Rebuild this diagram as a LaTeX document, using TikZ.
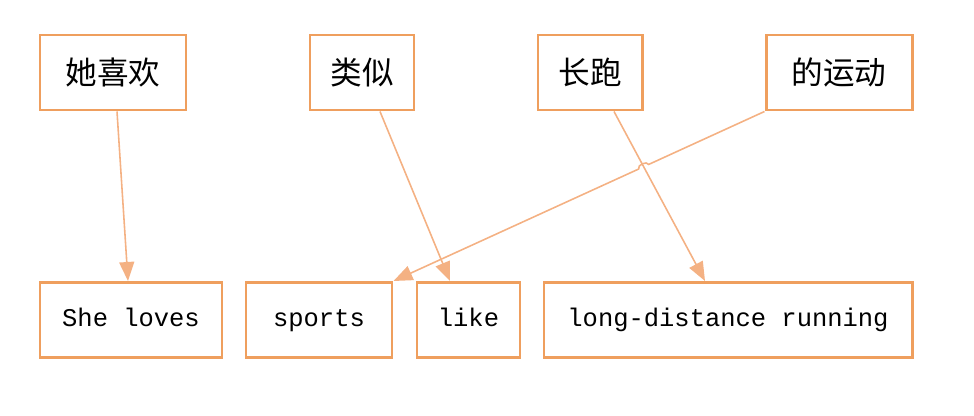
\documentclass[tikz,border=0pt]{standalone}
\usepackage{fontspec}
\setmonofont{Liberation Mono}
\newfontfamily\cjk{Noto Sans CJK SC}
\usetikzlibrary{arrows.meta,calc,positioning}
\definecolor{peach}{HTML}{EF9F5E}
\definecolor{peachline}{HTML}{F4B183}
\tikzstyle{zhbox} = [rectangle, minimum width=2.92cm, minimum height=1.5cm, text centered, draw=peach, line width=1.7pt, font=\cjk\fontsize{18}{20}\selectfont]
\tikzstyle{enbox} = [rectangle, minimum height=1.5cm, text centered, text height=2.2ex, text depth=0.4ex, draw=peach, line width=1.7pt, font=\ttfamily\fontsize{14.5}{16}\selectfont]
\tikzstyle{link} = [draw, line width=0.9pt, color=peachline, -{Triangle[length=0.38cm,width=0.3cm]}]

\begin{document}
\begin{tikzpicture}
  \useasboundingbox (0,0) rectangle (19.48,-8.32);
  % source row
  \node (tlove) [zhbox] at (2.26,-1.45) {她喜欢};
  \node (tlike) [zhbox, minimum width=2.08cm] at (7.24,-1.45) {类似};
  \node (trun) [zhbox, minimum width=2.08cm] at (11.8,-1.45) {长跑};
  \node (tsport) [zhbox] at (16.78,-1.45) {的运动};
  % target row
  \node (blove) [enbox, minimum width=3.64cm] at (2.62,-6.4) {She loves};
  \node (bsport) [enbox, minimum width=2.92cm] at (6.38,-6.4) {sports};
  \node (blike) [enbox, minimum width=2.06cm] at (9.37,-6.4) {like};
  \node (brun) [enbox, minimum width=7.36cm] at (14.56,-6.4) {long-distance running};

  \path [link] ([xshift=0.08cm]tlove.south) -- ([xshift=-0.06cm]blove.north);
  \path [link] ([xshift=0.36cm]tlike.south) -- ([xshift=-0.37cm]blike.north);
  \coordinate (runtop) at ([xshift=0.48cm]trun.south);
  \coordinate (runbot) at ([xshift=-0.46cm]brun.north);
  \path [link] (runtop) -- (runbot);
  \coordinate (hop) at (intersection of tsport.south west--bsport.north east and runtop--runbot);
  \path [link] (tsport.south west) -- ($(hop)!0.11cm!(tsport.south west)$)
    to[bend right=90] ($(hop)!0.11cm!(bsport.north east)$) -- (bsport.north east);
\end{tikzpicture}
\end{document}
